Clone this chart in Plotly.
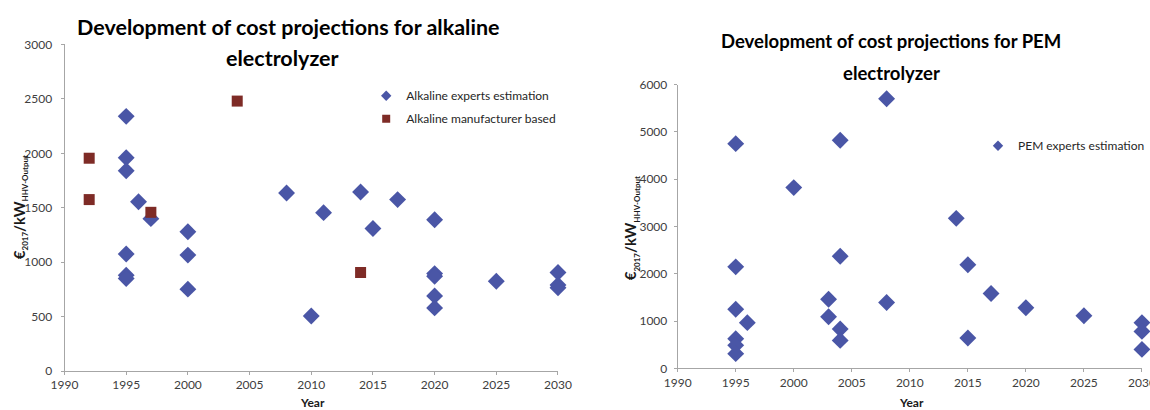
import plotly.graph_objects as go

# Alkaline electrolyzer cost projections (EUR2017 per kW HHV output)
alk_expert_year = [1995, 1995, 1995, 1995, 1995, 1995, 1996, 1997, 2000, 2000, 2000,
                   2008, 2010, 2011, 2014, 2015, 2017, 2020, 2020, 2020, 2020, 2020,
                   2025, 2030, 2030, 2030]
alk_expert_cost = [2340, 1960, 1840, 1075, 880, 850, 1555, 1400, 1280, 1065, 752,
                   1635, 505, 1455, 1645, 1310, 1575, 1390, 895, 870, 690, 580,
                   825, 905, 790, 765]
alk_manuf_year = [1992, 1992, 1997, 2004, 2014]
alk_manuf_cost = [1955, 1575, 1458, 2480, 905]

# PEM electrolyzer cost projections
pem_year = [1995, 1995, 1995, 1995, 1995, 1995, 1996, 2000, 2003, 2003,
            2004, 2004, 2004, 2004, 2008, 2008, 2014, 2015, 2015, 2017,
            2020, 2025, 2030, 2030, 2030]
pem_cost = [4750, 2145, 1250, 625, 485, 310, 965, 3820, 1460, 1090,
            4820, 2370, 830, 590, 5700, 1390, 3170, 2190, 640, 1580,
            1280, 1110, 965, 780, 400]

x_ticks = [1990, 1995, 2000, 2005, 2010, 2015, 2020, 2025, 2030]

BLUE = "#4a56a6"
BROWN = "#7e2b26"
FONT = "Lato"
TICK_COLOR = "#404040"
TITLE_COLOR = "#1a1a1a"

fig = go.Figure()

# data traces (legend entries come from the small-marker proxies below)
fig.add_trace(go.Scatter(
    x=alk_expert_year, y=alk_expert_cost, mode="markers", showlegend=False,
    marker=dict(symbol="diamond", size=13, color=BLUE),
    xaxis="x", yaxis="y", cliponaxis=False,
))
fig.add_trace(go.Scatter(
    x=alk_manuf_year, y=alk_manuf_cost, mode="markers", showlegend=False,
    marker=dict(symbol="square", size=11, color=BROWN),
    xaxis="x", yaxis="y", cliponaxis=False,
))
fig.add_trace(go.Scatter(
    x=pem_year, y=pem_cost, mode="markers", showlegend=False,
    marker=dict(symbol="diamond", size=13, color=BLUE),
    xaxis="x2", yaxis="y2", cliponaxis=False,
))

# legend proxies with compact symbols
fig.add_trace(go.Scatter(
    x=[None], y=[None], mode="markers", name="Alkaline experts estimation",
    marker=dict(symbol="diamond", size=8, color=BLUE), legendgroup="a1",
    xaxis="x", yaxis="y", legend="legend",
))
fig.add_trace(go.Scatter(
    x=[None], y=[None], mode="markers", name="Alkaline manufacturer based",
    marker=dict(symbol="square", size=8, color=BROWN), legendgroup="a2",
    xaxis="x", yaxis="y", legend="legend",
))
fig.add_trace(go.Scatter(
    x=[None], y=[None], mode="markers", name="PEM experts estimation",
    marker=dict(symbol="diamond", size=8, color=BLUE),
    xaxis="x2", yaxis="y2", legend="legend2",
))

axis_common = dict(
    showgrid=False, zeroline=False, showline=True, linecolor="#a6a6a6",
    linewidth=1, ticks="outside", ticklen=3, tickcolor="#a6a6a6",
    automargin=False, ticklabeloverflow="allow",
    tickfont=dict(family=FONT, size=12, color=TICK_COLOR),
)

ytitle = ("<b>€<sub><span style='font-size:8px'>2017</span></sub>/kW"
          "<sub><span style='font-size:8px'>HHV-Output</span></sub></b>")


def title_line(text, x, y, size):
    return dict(text="<b>" + text + "</b>", x=x, y=y, xref="paper", yref="paper",
                xanchor="center", yanchor="middle", showarrow=False,
                font=dict(family=FONT, size=size, color="black"))


fig.update_layout(
    width=1150, height=410,
    margin=dict(l=0, r=0, t=0, b=0),
    paper_bgcolor="white", plot_bgcolor="white",
    font=dict(family=FONT),
    xaxis=dict(domain=[0.0561, 0.4852], range=[1990, 2030], tickvals=x_ticks,
               anchor="y", **axis_common),
    yaxis=dict(domain=[0.0951, 0.8915], range=[0, 3000], dtick=500, anchor="x",
               ticklabelstandoff=6, **axis_common),
    xaxis2=dict(domain=[0.5893, 0.993], range=[1990, 2030], tickvals=x_ticks,
                anchor="y2", **axis_common),
    yaxis2=dict(domain=[0.1017, 0.7939], range=[0, 6000], dtick=1000, anchor="x2",
                ticklabelstandoff=4, **axis_common),
    legend=dict(x=0.488, y=0.802, xanchor="right", yanchor="top",
                font=dict(family=FONT, size=12, color="#262626"),
                bgcolor="rgba(0,0,0,0)", itemwidth=30, tracegroupgap=4),
    legend2=dict(x=1.0, y=0.68, xanchor="right", yanchor="top",
                 font=dict(family=FONT, size=12, color="#262626"),
                 bgcolor="rgba(0,0,0,0)", itemwidth=30),
    annotations=[
        title_line("Development of cost projections for alkaline", 0.2505, 0.933, 21.5),
        title_line("electrolyzer", 0.2455, 0.858, 21.5),
        title_line("Development of cost projections for PEM", 0.7748, 0.9, 18.5),
        title_line("electrolyzer", 0.7748, 0.823, 18.5),
        # y-axis titles
        dict(text=ytitle, textangle=-90, x=0.0175, y=0.495, xref="paper", yref="paper",
             xanchor="center", yanchor="middle", showarrow=False,
             font=dict(family=FONT, size=15, color=TITLE_COLOR)),
        dict(text=ytitle, textangle=-90, x=0.549, y=0.444, xref="paper", yref="paper",
             xanchor="center", yanchor="middle", showarrow=False,
             font=dict(family=FONT, size=15, color=TITLE_COLOR)),
        # x-axis titles
        dict(text="<b>Year</b>", x=0.272, y=-0.004, xref="paper", yref="paper",
             xanchor="center", yanchor="bottom", showarrow=False,
             font=dict(family=FONT, size=12, color=TITLE_COLOR)),
        dict(text="<b>Year</b>", x=0.793, y=-0.004, xref="paper", yref="paper",
             xanchor="center", yanchor="bottom", showarrow=False,
             font=dict(family=FONT, size=12, color=TITLE_COLOR)),
    ],
)

fig.write_html("out.html")
